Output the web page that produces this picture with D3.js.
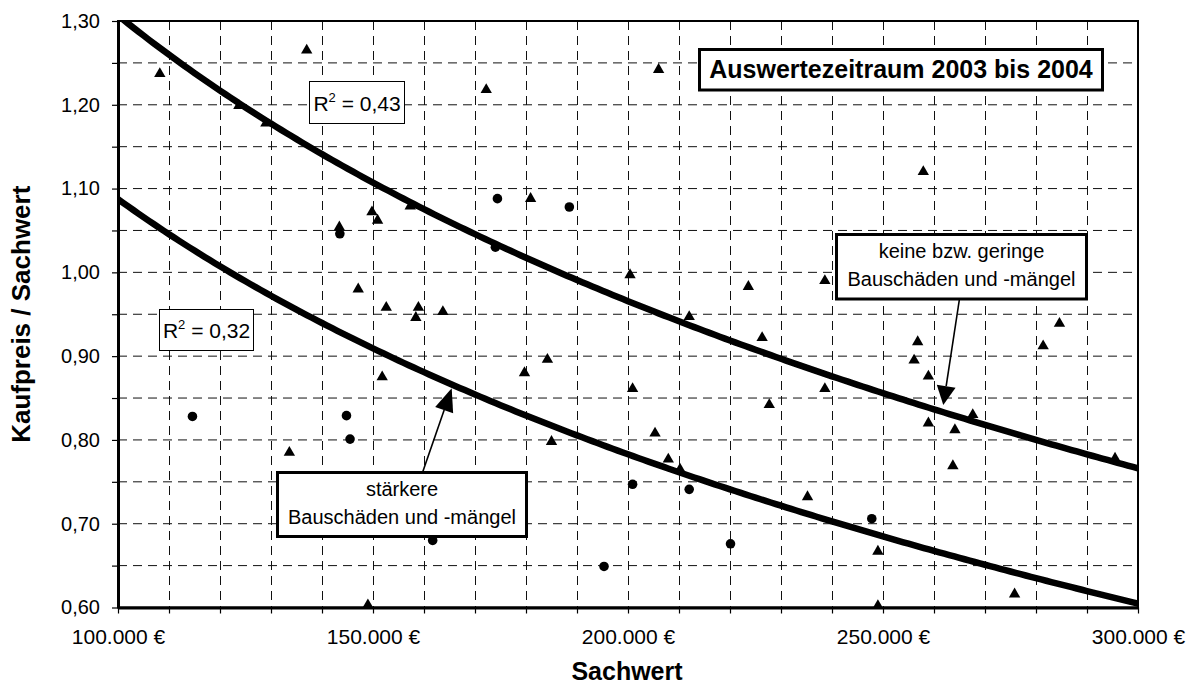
<!DOCTYPE html>
<html>
<head>
<meta charset="utf-8">
<script src="https://cdn.jsdelivr.net/npm/d3@7"></script>
<style>
  body { margin: 0; background: #fff; }
  text { font-family: "Liberation Sans", Arial, Helvetica, sans-serif; fill: #000; }
</style>
</head>
<body>
<svg id="chart" width="1195" height="687"></svg>
<script>
// Kaufpreise / Sachwerte, Auswertezeitraum 2003 bis 2004
// keine bzw. geringe Bauschäden und -mängel (Dreiecke)
const sachwertGering = [108200, 137000, 123700, 129000, 172200, 206000, 149800, 150900, 143400, 157300,
  180900, 147100, 152600, 158900, 158400, 163700, 151800, 133600, 149000, 200400,
  223600, 212000, 226300, 184200, 179700, 200900, 227700, 205300, 185000, 207900,
  210200, 238600, 257900, 256800, 256100, 258900, 284600, 281400, 238600, 258900,
  264100, 267600, 235200, 249000, 249000, 263700, 275800, 295500];
const quoteGering = [1.237, 1.265, 1.199, 1.178, 1.218, 1.242, 1.072, 1.062, 1.054, 1.079,
  1.088, 0.980, 0.958, 0.958, 0.946, 0.953, 0.875, 0.785, 0.603, 0.997,
  0.983, 0.947, 0.922, 0.896, 0.880, 0.861, 0.842, 0.808, 0.798, 0.777,
  0.765, 0.990, 1.120, 0.917, 0.895, 0.876, 0.939, 0.912, 0.861, 0.820,
  0.812, 0.830, 0.732, 0.667, 0.602, 0.769, 0.616, 0.778];

// stärkere Bauschäden und -mängel (Kreise)
const sachwertStark = [114600, 143500, 144800, 145500, 161700, 174400, 188500, 174000, 195300, 200900,
  212000, 220100, 247800];
const quoteStark = [0.828, 1.046, 0.829, 0.801, 0.680, 1.088, 1.078, 1.030, 0.649, 0.747,
  0.741, 0.676, 0.706];

// logarithmische Trendlinien: y = a + b * ln(x)
const trendGering = [6.971, -0.492];
const trendStark = [6.145, -0.4393];
const r2Gering = "0,43";
const r2Stark = "0,32";

// Achsen
const xDomain = [100000, 300000];
const yDomain = [0.60, 1.30];
const xLabelValues = [100000, 150000, 200000, 250000, 300000];
const xTickLabels = ["100.000 €", "150.000 €", "200.000 €", "250.000 €", "300.000 €"];
const yLabelValues = [0.60, 0.70, 0.80, 0.90, 1.00, 1.10, 1.20, 1.30];
const yTickLabels = ["0,60", "0,70", "0,80", "0,90", "1,00", "1,10", "1,20", "1,30"];
const xStep = 10000;
const yStep = 0.05;

const svg = d3.select("#chart");
const plot = { left: 118, right: 1138, top: 21, bottom: 607.5 };

const x = d3.scaleLinear().domain(xDomain).range([plot.left, plot.right]);
const y = d3.scaleLinear().domain(yDomain).range([plot.bottom, plot.top]);

const xTickValues = d3.range(xDomain[0], xDomain[1] + 1, xStep);
const yTickValues = d3.range(0, Math.round((yDomain[1] - yDomain[0]) / yStep) + 1)
  .map(i => +(yDomain[0] + i * yStep).toFixed(2));

svg.append("rect").attr("width", 1195).attr("height", 687).attr("fill", "#fff");

// Gitternetz
const grid = svg.append("g").attr("stroke", "#111").attr("stroke-width", 1)
  .attr("stroke-dasharray", "9,6").attr("fill", "none");
grid.selectAll("line.v").data(xTickValues.slice(1, -1)).join("line").attr("class", "v")
  .attr("x1", d => Math.round(x(d)) + 0.5).attr("x2", d => Math.round(x(d)) + 0.5)
  .attr("y1", plot.top).attr("y2", plot.bottom);
grid.selectAll("line.h").data(yTickValues.slice(1, -1)).join("line").attr("class", "h")
  .attr("y1", d => y(d)).attr("y2", d => y(d))
  .attr("x1", plot.left).attr("x2", plot.right);

// Rahmen der Zeichnungsfläche
svg.append("rect")
  .attr("x", plot.left).attr("y", plot.top)
  .attr("width", plot.right - plot.left).attr("height", plot.bottom - plot.top)
  .attr("fill", "none").attr("stroke", "#000").attr("stroke-width", 2);

// Achsen
const fmtX = d => { const i = xLabelValues.indexOf(d); return i >= 0 ? xTickLabels[i] : ""; };
const fmtY = d => { const i = yLabelValues.findIndex(v => Math.abs(v - d) < 1e-6); return i >= 0 ? yTickLabels[i] : ""; };

const xAxis = svg.append("g").attr("transform", `translate(0,${plot.bottom})`)
  .call(d3.axisBottom(x).tickValues(xTickValues).tickFormat(fmtX).tickSizeInner(6).tickSizeOuter(0).tickPadding(16));
const yAxis = svg.append("g").attr("transform", `translate(${plot.left},0)`)
  .call(d3.axisLeft(y).tickValues(yTickValues).tickFormat(fmtY).tickSizeInner(6).tickSizeOuter(0).tickPadding(12));

[xAxis, yAxis].forEach(g => {
  g.select(".domain").attr("stroke", "#000").attr("stroke-width", 3);
  g.selectAll(".tick line").attr("stroke", "#000").attr("stroke-width", 1.2);
  g.selectAll(".tick text").attr("font-size", 20)
    .attr("font-family", '"Liberation Sans", Arial, sans-serif').attr("fill", "#000");
});
xAxis.selectAll(".tick text").attr("font-size", 21);

// Achsentitel
svg.append("text").attr("x", 627).attr("y", 680).attr("text-anchor", "middle")
  .attr("font-size", 25).attr("font-weight", "bold").text("Sachwert");
svg.append("text").attr("transform", `translate(30,${(plot.top + plot.bottom) / 2}) rotate(-90)`)
  .attr("text-anchor", "middle").attr("font-size", 26).attr("font-weight", "bold")
  .text("Kaufpreis / Sachwert");

// Datenpunkte
const marks = svg.append("g").attr("fill", "#000");
const triangle = d3.symbol().type(d3.symbolTriangle).size(56);
const circle = d3.symbol().type(d3.symbolCircle).size(72);
marks.selectAll("path.g").data(d3.zip(sachwertGering, quoteGering)).join("path").attr("class", "g")
  .attr("d", triangle).attr("transform", d => `translate(${x(d[0])},${y(d[1])})`);
marks.selectAll("path.s").data(d3.zip(sachwertStark, quoteStark)).join("path").attr("class", "s")
  .attr("d", circle).attr("transform", d => `translate(${x(d[0])},${y(d[1])})`);

// Trendlinien
svg.append("clipPath").attr("id", "plotClip").append("rect")
  .attr("x", plot.left).attr("y", plot.top)
  .attr("width", plot.right - plot.left).attr("height", plot.bottom - plot.top);
const samples = d3.range(xDomain[0], xDomain[1] + 1, 1000);
const trendLine = d3.line().x(d => x(d[0])).y(d => y(d[1])).curve(d3.curveLinear);
[trendGering, trendStark].forEach(t => {
  svg.append("path")
    .attr("clip-path", "url(#plotClip)")
    .attr("d", trendLine(samples.map(v => [v, t[0] + t[1] * Math.log(v)])))
    .attr("fill", "none").attr("stroke", "#000").attr("stroke-width", 6.5)
    .attr("stroke-linejoin", "round");
});

// Beschriftungen
function box(x0, y0, w, h, sw) {
  svg.append("rect").attr("x", x0).attr("y", y0).attr("width", w).attr("height", h)
    .attr("fill", "#fff").attr("stroke", "#000").attr("stroke-width", sw);
}
function arrow(x1, y1, tx, ty, len, half) {
  const dx = tx - x1, dy = ty - y1, L = Math.hypot(dx, dy);
  const ux = dx / L, uy = dy / L, nx = -uy, ny = ux;
  const bx = tx - ux * len, by = ty - uy * len;
  svg.append("line").attr("x1", x1).attr("y1", y1).attr("x2", bx).attr("y2", by)
    .attr("stroke", "#000").attr("stroke-width", 1.6);
  svg.append("path")
    .attr("d", `M${tx},${ty}L${bx + nx * half},${by + ny * half}L${bx - nx * half},${by - ny * half}Z`)
    .attr("fill", "#000");
}
function r2Label(cx, base, value) {
  const t = svg.append("text").attr("x", cx).attr("y", base).attr("text-anchor", "middle").attr("font-size", 21);
  t.append("tspan").text("R");
  t.append("tspan").attr("font-size", 13).attr("dy", -9).text("2");
  t.append("tspan").attr("dy", 9).text(" = " + value);
}

// Zeitraum
box(699.5, 49.5, 403, 40.5, 3);
svg.append("text").attr("x", 901).attr("y", 78).attr("text-anchor", "middle")
  .attr("font-size", 25).attr("font-weight", "bold").text("Auswertezeitraum 2003 bis 2004");

// Bestimmtheitsmaße
box(309.5, 81.5, 95, 42, 1);
r2Label(357, 111, r2Gering);
box(159.5, 309.5, 94, 41, 1);
r2Label(206.5, 338, r2Stark);

// keine bzw. geringe Bauschäden
arrow(959.3, 300, 943.3, 405, 19, 9.5);
box(836.5, 234.5, 250, 64.5, 3);
svg.append("text").attr("x", 961.5).attr("y", 257.5).attr("text-anchor", "middle")
  .attr("font-size", 20).text("keine bzw. geringe");
svg.append("text").attr("x", 961.5).attr("y", 286).attr("text-anchor", "middle")
  .attr("font-size", 20).text("Bauschäden und -mängel");

// stärkere Bauschäden
arrow(422.7, 472, 451.7, 388.3, 23, 9.5);
box(277.5, 472.5, 249, 64, 3);
svg.append("text").attr("x", 402).attr("y", 495.5).attr("text-anchor", "middle")
  .attr("font-size", 20).text("stärkere");
svg.append("text").attr("x", 402).attr("y", 523.5).attr("text-anchor", "middle")
  .attr("font-size", 20).text("Bauschäden und -mängel");
</script>
</body>
</html>
